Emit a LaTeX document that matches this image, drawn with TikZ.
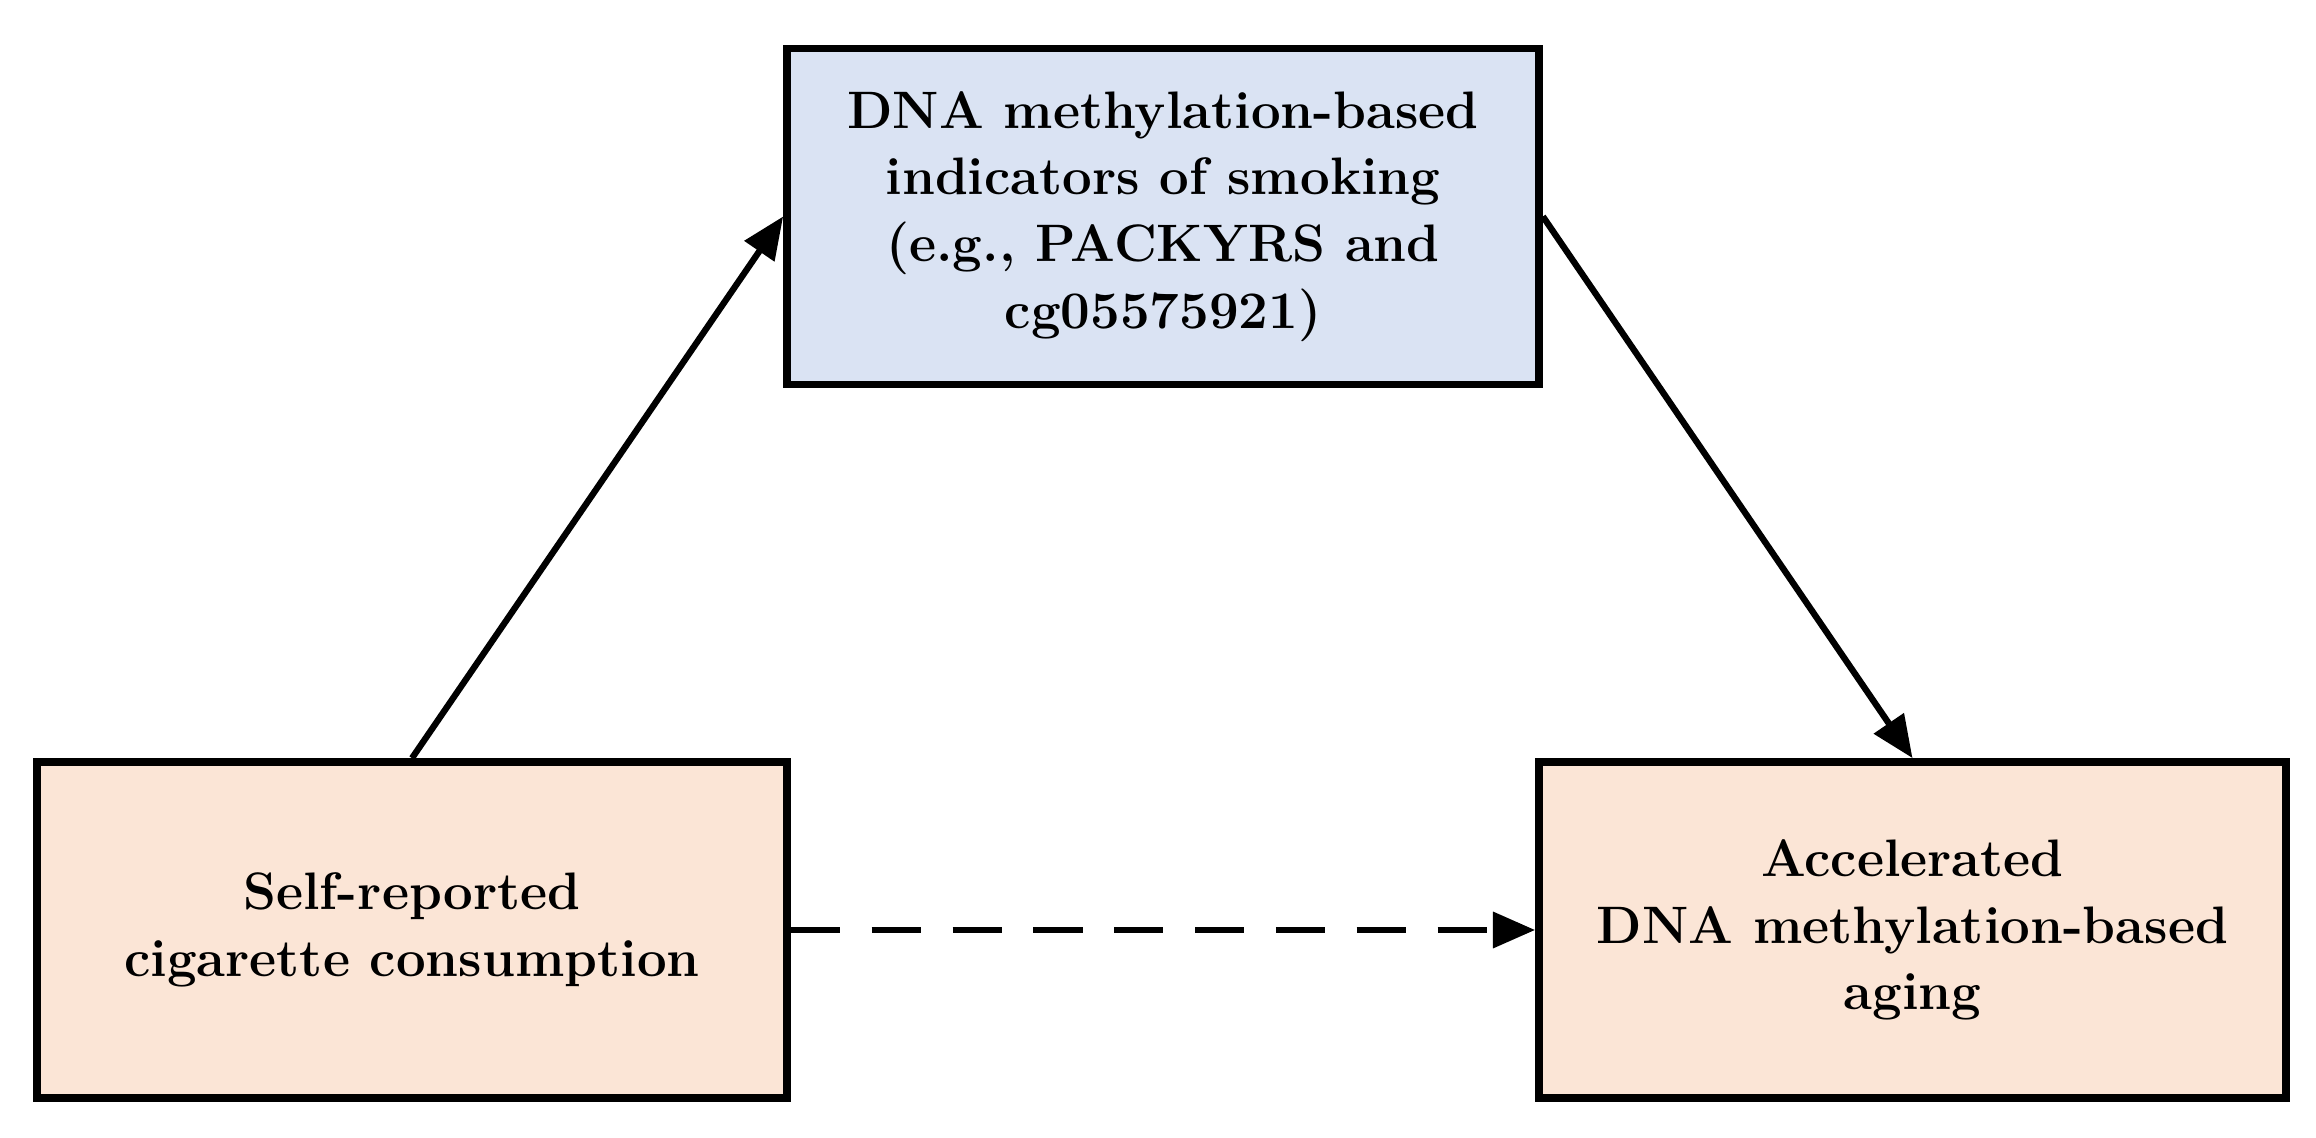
\documentclass[tikz,border=0pt]{standalone}
\usetikzlibrary{arrows.meta, positioning}
\definecolor{boxblue}{HTML}{DAE3F3}
\definecolor{boxpeach}{HTML}{FBE5D6}

\begin{document}
\begin{tikzpicture}[
    box/.style={draw, line width=2.2pt, minimum height=3.36cm, align=center,
        font=\fontsize{15}{19}\selectfont\bfseries},
    link/.style={line width=1.8pt, -{Triangle[length=12pt, width=10pt]}}]
    \useasboundingbox (0,0) rectangle (23.16,11.38);
    % Define boxes
    \node[box, fill=boxblue, minimum width=7.52cm] (ind) at (11.63,9.215)
        {DNA methylation-based\\indicators of smoking\\(e.g., PACKYRS and\\cg05575921)};
    \node[box, fill=boxpeach, minimum width=7.50cm] (self) at (4.12,2.08)
        {Self-reported\\cigarette consumption};
    \node[box, fill=boxpeach, minimum width=7.47cm] (age) at (19.125,2.08)
        {Accelerated\\DNA methylation-based\\aging};

    % Define connectors
    \draw[link] (self.north) -- (ind.west);
    \draw[link] (ind.east) -- (age.north);
    \draw[link, dashed, dash pattern=on 14pt off 9pt] (self.east) -- (age.west);
\end{tikzpicture}
\end{document}
